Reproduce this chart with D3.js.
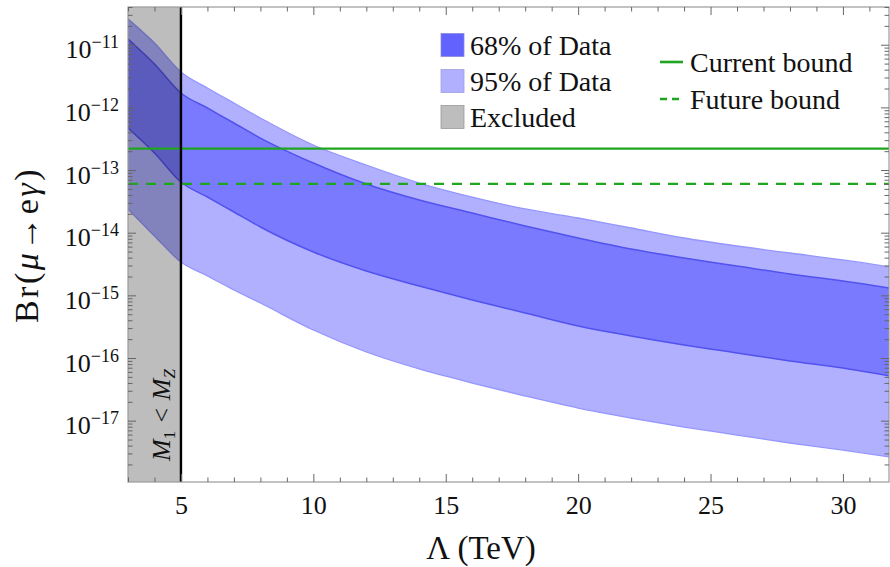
<!DOCTYPE html>
<html>
<head>
<meta charset="utf-8">
<script src="https://cdn.jsdelivr.net/npm/d3@7"></script>
<style>
  html, body { margin: 0; padding: 0; background: #fff; }
  svg { display: block; }
  svg text { font-family: "Liberation Serif", "Times New Roman", serif !important; fill: #111; }
</style>
</head>
<body>
<svg id="chart" width="890" height="567"></svg>
<script>
// Λ (TeV) sample points
const lambda = [3, 4, 5, 6, 7, 8, 10, 12, 14, 16, 18, 20, 22, 24, 26, 28, 30, 32];
// Br(μ→eγ) band edges
const br95Upper = [2.57e-11, 1.065e-11, 3.67e-12, 2.04e-12, 1.174e-12, 6.77e-13, 2.51e-13, 1.203e-13, 6.21e-14, 3.71e-14, 2.39e-14, 1.716e-14, 1.188e-14, 8.23e-15, 6.13e-15, 4.74e-15, 3.67e-15, 2.73e-15];
const br68Upper = [1.234e-11, 4.92e-12, 1.696e-12, 9.77e-13, 5.63e-13, 3.24e-13, 1.295e-13, 5.98e-14, 3.32e-14, 2.06e-14, 1.278e-14, 8.23e-15, 5.49e-15, 3.95e-15, 2.94e-15, 2.19e-15, 1.694e-15, 1.262e-15];
const br68Lower = [4.69e-13, 1.87e-13, 6.44e-14, 3.71e-14, 2.14e-14, 1.232e-14, 4.92e-15, 2.45e-15, 1.41e-15, 8.43e-16, 5.23e-16, 3.24e-16, 2.245e-16, 1.612e-16, 1.202e-16, 8.96e-17, 6.93e-17, 4.97e-17];
const br95Lower = [2.39e-14, 8.86e-15, 3.40e-15, 2.04e-15, 1.217e-15, 7.55e-16, 2.80e-16, 1.247e-16, 6.68e-17, 3.99e-17, 2.475e-17, 1.592e-17, 1.103e-17, 7.92e-18, 5.90e-18, 4.40e-18, 3.40e-18, 2.54e-18];

// experimental limits
const currentBound = 2.2e-13;
const futureBound = 6e-14;
// region where M1 < MZ
const excludedRange = [3, 5];

// axis ticks
const xMajorTicks = [5, 10, 15, 20, 25, 30];
const xMinorTicks = d3.range(3, 32, 1).filter(v => !xMajorTicks.includes(v));
const yExponents = [-11, -12, -13, -14, -15, -16, -17];

// legend entries
const bandLegend = ["68% of Data", "95% of Data", "Excluded"];
const boundLegend = ["Current bound", "Future bound"];

const FONT = "Liberation Serif";
const svg = d3.select("#chart");
const plot = { left: 128, right: 889, top: 7, bottom: 482 };

const x = d3.scaleLinear().domain([3, 31.74]).range([plot.left, plot.right]);
const y = d3.scaleLog().domain([1.05e-18, 4e-11]).range([plot.bottom, plot.top]);

const colors = {
  band68: "#7a7aff", edge68: "#5252ee",
  band95: "#b0b0ff", edge95: "#9696ff",
  swatch68: "#6262ff",
  excluded: "#bdbdbd",
  green: "#1fa51f",
  frame: "#9a9a9a", tick: "#666"
};

svg.append("defs").append("clipPath").attr("id", "plotClip")
  .append("rect")
  .attr("x", plot.left).attr("y", plot.top)
  .attr("width", plot.right - plot.left).attr("height", plot.bottom - plot.top);

const g = svg.append("g").attr("clip-path", "url(#plotClip)");

const band = (lo, hi) => d3.area()
  .x((d, i) => x(lambda[i]))
  .y0((d, i) => y(lo[i]))
  .y1((d, i) => y(hi[i]))
  .curve(d3.curveMonotoneX);
const edge = vals => d3.line()
  .x((d, i) => x(lambda[i]))
  .y((d, i) => y(vals[i]))
  .curve(d3.curveMonotoneX);

// 95% band
g.append("path").datum(lambda).attr("d", band(br95Lower, br95Upper)).attr("fill", colors.band95);
g.append("path").datum(lambda).attr("d", edge(br95Upper)).attr("fill", "none").attr("stroke", colors.edge95).attr("stroke-width", 1.3);
g.append("path").datum(lambda).attr("d", edge(br95Lower)).attr("fill", "none").attr("stroke", colors.edge95).attr("stroke-width", 1.3);
// 68% band
g.append("path").datum(lambda).attr("d", band(br68Lower, br68Upper)).attr("fill", colors.band68);
g.append("path").datum(lambda).attr("d", edge(br68Upper)).attr("fill", "none").attr("stroke", colors.edge68).attr("stroke-width", 1.5);
g.append("path").datum(lambda).attr("d", edge(br68Lower)).attr("fill", "none").attr("stroke", colors.edge68).attr("stroke-width", 1.5);

// excluded region, shading whatever lies beneath
g.append("rect")
  .attr("x", x(excludedRange[0])).attr("y", plot.top)
  .attr("width", x(excludedRange[1]) - x(excludedRange[0]))
  .attr("height", plot.bottom - plot.top)
  .attr("fill", colors.excluded)
  .style("mix-blend-mode", "multiply");

// bounds
g.append("line")
  .attr("x1", plot.left).attr("x2", plot.right)
  .attr("y1", y(currentBound)).attr("y2", y(currentBound))
  .attr("stroke", colors.green).attr("stroke-width", 2.2);
g.append("line")
  .attr("x1", plot.left).attr("x2", plot.right)
  .attr("y1", y(futureBound)).attr("y2", y(futureBound))
  .attr("stroke", colors.green).attr("stroke-width", 2.2)
  .attr("stroke-dasharray", "10,8");

// M1 = MZ boundary
g.append("line")
  .attr("x1", x(excludedRange[1])).attr("x2", x(excludedRange[1]))
  .attr("y1", plot.top).attr("y2", plot.bottom)
  .attr("stroke", "#000").attr("stroke-width", 2.4);

// rotated label inside excluded region
const mLabel = svg.append("text")
  .attr("transform", `translate(${(x(excludedRange[0]) + x(excludedRange[1])) / 2 + 16},415) rotate(-90)`)
  .attr("text-anchor", "middle")
  .style("font-family", FONT)
  .style("font-size", "26px").style("font-style", "italic");
mLabel.append("tspan").text("M");
mLabel.append("tspan").attr("dy", 5).style("font-size", "17px").style("font-style", "normal").text("1");
mLabel.append("tspan").attr("dy", -5).text(" < M");
mLabel.append("tspan").attr("dy", 5).style("font-size", "17px").text("Z");

// frame
svg.append("rect")
  .attr("x", plot.left).attr("y", plot.top)
  .attr("width", plot.right - plot.left).attr("height", plot.bottom - plot.top)
  .attr("fill", "none").attr("stroke", colors.frame).attr("stroke-width", 1.2);

function styleAxis(sel) {
  sel.attr("font-family", FONT);
  sel.select(".domain").remove();
  sel.selectAll(".tick line").attr("stroke", colors.tick).attr("stroke-width", 1);
}

// x axis (bottom with labels, top mirrored)
const xMajBottom = svg.append("g").attr("transform", `translate(0,${plot.bottom})`)
  .call(d3.axisBottom(x).tickValues(xMajorTicks).tickSize(-8).tickPadding(14).tickFormat(d3.format("d")));
styleAxis(xMajBottom);
xMajBottom.selectAll("text").style("font-size", "26px").style("font-family", FONT).attr("fill", "#111");
styleAxis(svg.append("g").attr("transform", `translate(0,${plot.bottom})`)
  .call(d3.axisBottom(x).tickValues(xMinorTicks).tickSize(-4.5).tickFormat("")));
styleAxis(svg.append("g").attr("transform", `translate(0,${plot.top})`)
  .call(d3.axisTop(x).tickValues(xMajorTicks).tickSize(-8).tickFormat("")));
styleAxis(svg.append("g").attr("transform", `translate(0,${plot.top})`)
  .call(d3.axisTop(x).tickValues(xMinorTicks).tickSize(-4.5).tickFormat("")));

// y axis (left with labels, right mirrored)
const yMajor = yExponents.map(e => Math.pow(10, e));
const yMinor = [];
d3.range(-18, -10).forEach(e => d3.range(2, 10).forEach(m => {
  const v = m * Math.pow(10, e);
  if (v >= y.domain()[0] && v <= y.domain()[1]) yMinor.push(v);
}));

const yLeft = svg.append("g").attr("transform", `translate(${plot.left},0)`)
  .call(d3.axisLeft(y).tickValues(yMajor).tickSize(-8).tickPadding(9).tickFormat(""));
styleAxis(yLeft);
yLeft.selectAll(".tick text").each(function (d) {
  const t = d3.select(this).attr("dy", "0.5em")
    .style("font-family", FONT).style("font-size", "26px").attr("fill", "#111");
  t.append("tspan").text("10");
  t.append("tspan").attr("dy", "-0.55em").style("font-size", "18px").text("\u2212" + Math.round(-Math.log10(d)));
});
styleAxis(svg.append("g").attr("transform", `translate(${plot.left},0)`)
  .call(d3.axisLeft(y).tickValues(yMinor).tickSize(-4.5).tickFormat("")));
styleAxis(svg.append("g").attr("transform", `translate(${plot.right},0)`)
  .call(d3.axisRight(y).tickValues(yMajor).tickSize(-8).tickFormat("")));
styleAxis(svg.append("g").attr("transform", `translate(${plot.right},0)`)
  .call(d3.axisRight(y).tickValues(yMinor).tickSize(-4.5).tickFormat("")));

// axis titles
svg.append("text")
  .attr("x", 481).attr("y", 559)
  .attr("text-anchor", "middle")
  .style("font-family", FONT).style("font-size", "33px")
  .text("\u039B (TeV)");

const yTitle = svg.append("text")
  .attr("transform", "translate(38,245) rotate(-90)")
  .attr("text-anchor", "middle")
  .style("font-family", FONT).style("font-size", "34px")
  .style("letter-spacing", "2.5px");
yTitle.append("tspan").text("Br(");
yTitle.append("tspan").style("font-style", "italic").text("\u03BC");
yTitle.append("tspan").text("\u2192e");
yTitle.append("tspan").style("font-style", "italic").text("\u03B3");
yTitle.append("tspan").text(")");

// legend: bands
const bandFills = [colors.swatch68, colors.band95, colors.excluded];
const bandStrokes = ["#8a8ad8", "#a0a0e0", "#999"];
const legA = svg.append("g");
bandLegend.forEach((label, i) => {
  const cy = 45 + i * 36;
  legA.append("rect")
    .attr("x", 441).attr("y", cy - 11.5).attr("width", 23).attr("height", 23)
    .attr("fill", bandFills[i]).attr("stroke", bandStrokes[i]).attr("stroke-width", 0.8);
  legA.append("text")
    .attr("x", 470).attr("y", cy).attr("dy", "0.35em")
    .style("font-family", FONT).style("font-size", "28px").text(label);
});

// legend: bounds
const legB = svg.append("g");
boundLegend.forEach((label, i) => {
  const cy = 62 + i * 37;
  legB.append("line")
    .attr("x1", 660).attr("x2", 683).attr("y1", cy).attr("y2", cy)
    .attr("stroke", colors.green).attr("stroke-width", 2.6)
    .attr("stroke-dasharray", i === 1 ? "7,5" : null);
  legB.append("text")
    .attr("x", 690).attr("y", cy).attr("dy", "0.35em")
    .style("font-family", FONT).style("font-size", "28px").text(label);
});
</script>
</body>
</html>
